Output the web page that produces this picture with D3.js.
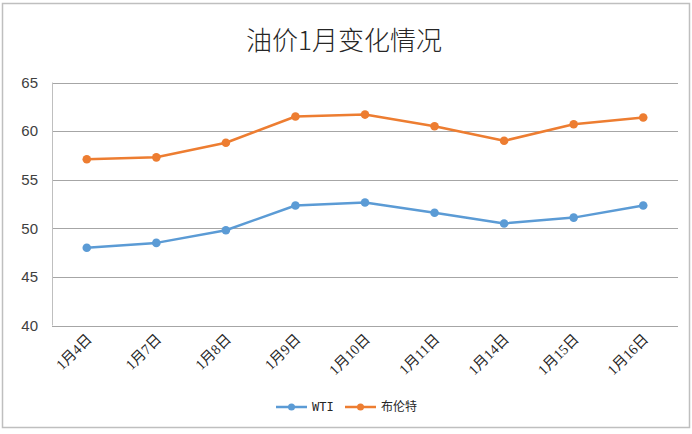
<!DOCTYPE html>
<html><head><meta charset="utf-8">
<script src="https://cdn.jsdelivr.net/npm/d3@7"></script>
<style>body{margin:0;background:#fff}</style>
</head><body>
<script>
const categories = ["1月4日","1月7日","1月8日","1月9日","1月10日","1月11日","1月14日","1月15日","1月16日"];
const wti   = [48.0, 48.5, 49.8, 52.35, 52.65, 51.6, 50.5, 51.1, 52.35];
const brent = [57.1, 57.3, 58.8, 61.5, 61.7, 60.5, 59.0, 60.7, 61.4];
const yTicks = [40, 45, 50, 55, 60, 65];
const seriesNames = ["WTI", "布伦特"];
const colors = ["#5b9bd5", "#ed7d31"];

const W = 692, H = 434;
const svg = d3.select("body").append("svg").attr("width", W).attr("height", H);
svg.append("rect").attr("x", 2.5).attr("y", 3.5).attr("width", 687).attr("height", 424)
  .attr("fill", "#fff").attr("stroke", "#bfbfbf").attr("stroke-width", 1.5);

const L = 52, R = 678, T = 82.5, B = 325.5;
const x = d3.scaleBand().domain(categories).range([L, R]);
const y = d3.scaleLinear().domain([40, 65]).range([B, T]);

svg.append("text").attr("x", 344).attr("y", 50).attr("text-anchor", "middle")
  .attr("font-family", "'Noto Sans CJK SC', sans-serif").attr("font-weight", 300)
  .attr("font-size", 26).attr("fill", "#262626").text("油价1月变化情况");

// grid
svg.append("g").selectAll("line").data(yTicks).join("line")
  .attr("x1", L).attr("x2", R).attr("y1", d => Math.round(y(d)) + 0.5).attr("y2", d => Math.round(y(d)) + 0.5)
  .attr("stroke", "#a6a6a6").attr("stroke-width", 1);
svg.append("line").attr("x1", L + 0.5).attr("x2", L + 0.5).attr("y1", T).attr("y2", B).attr("stroke", "#bfbfbf");

// y labels
svg.append("g").selectAll("text").data(yTicks).join("text")
  .attr("x", 38).attr("y", d => y(d)).attr("dy", "0.35em").attr("text-anchor", "end")
  .attr("font-family", "'Liberation Sans', Arial, sans-serif").attr("font-size", 15).attr("fill", "#404040")
  .text(d => d);

// x labels
svg.append("g").selectAll("text").data(categories).join("text")
  .attr("text-anchor", "end")
  .attr("transform", d => `translate(${x(d) + x.bandwidth()/2 + 6},${340}) rotate(-45)`)
  .attr("font-family", "'Liberation Serif', 'Noto Sans CJK SC', serif").attr("font-size", 14.5).attr("fill", "#262626")
  .text(d => d);

const cx = d => x(d) + x.bandwidth() / 2;
const data = [wti, brent];
data.forEach((vals, i) => {
  const line = d3.line().x((v, j) => cx(categories[j])).y(v => y(v));
  svg.append("path").datum(vals).attr("d", line).attr("fill", "none")
    .attr("stroke", colors[i]).attr("stroke-width", 2.5).attr("stroke-linejoin", "round");
  svg.append("g").selectAll("circle").data(vals).join("circle")
    .attr("cx", (v, j) => cx(categories[j])).attr("cy", v => y(v)).attr("r", 4.3).attr("fill", colors[i]);
});

// legend
const legend = [{x0: 276, tx: 312}, {x0: 345, tx: 381}];
legend.forEach((l, i) => {
  const g = svg.append("g");
  g.append("line").attr("x1", l.x0).attr("x2", l.x0 + 31).attr("y1", 407).attr("y2", 407)
    .attr("stroke", colors[i]).attr("stroke-width", 2.5);
  g.append("circle").attr("cx", l.x0 + 15.5).attr("cy", 407).attr("r", 3.5).attr("fill", colors[i]);
  g.append("text").attr("x", l.tx).attr("y", 407).attr("dy", "0.35em")
    .attr("font-family", "'DejaVu Sans Mono', 'Noto Sans CJK SC', monospace").attr("font-size", 12).attr("fill", "#262626")
    .text(seriesNames[i]);
});
</script>
</body></html>
